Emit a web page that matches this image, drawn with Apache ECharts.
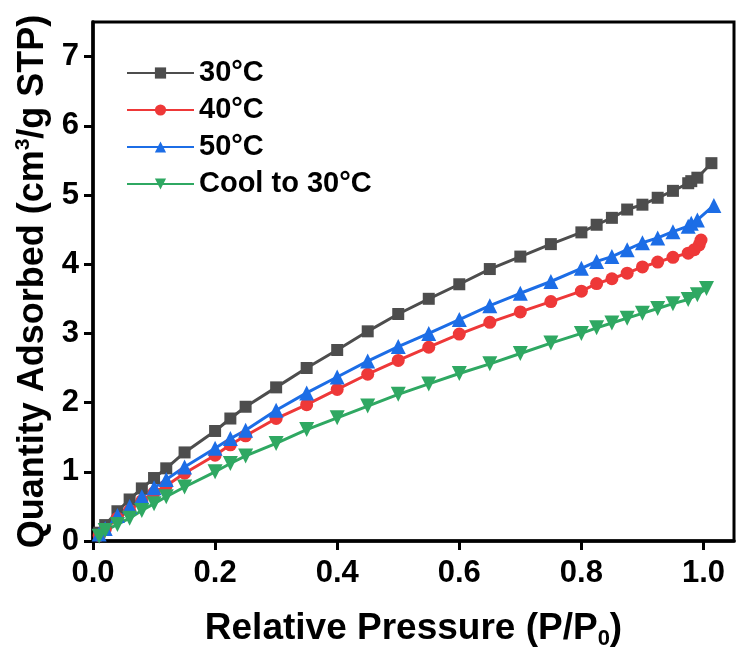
<!DOCTYPE html>
<html>
<head>
<meta charset="utf-8">
<script src="https://cdn.jsdelivr.net/npm/echarts@6/dist/echarts.min.js"></script>
<style>html,body{margin:0;padding:0;background:#fff}#chart{width:737px;height:652px}</style>
</head>
<body>
<div id="chart"></div>
<script>
const seriesNames = ['30°C', '40°C', '50°C', 'Cool to 30°C'];
const xTicks = [0, 0.2, 0.4, 0.6, 0.8, 1.0];
const yTicks = [0, 1, 2, 3, 4, 5, 6, 7];

const p30 = [0.01,0.02,0.04,0.06,0.08,0.10,0.12,0.15,0.20,0.225,0.25,0.30,0.35,0.40,0.45,0.50,0.55,0.60,0.65,0.70,0.75,0.80,0.825,0.85,0.875,0.90,0.925,0.95,0.975,0.98,0.99,1.013];
const q30 = [0.12,0.23,0.43,0.60,0.76,0.91,1.05,1.28,1.59,1.77,1.94,2.22,2.50,2.76,3.03,3.28,3.50,3.71,3.93,4.11,4.29,4.46,4.57,4.67,4.79,4.86,4.96,5.06,5.17,5.20,5.25,5.46];

const p40 = [0.01,0.02,0.04,0.06,0.08,0.10,0.12,0.15,0.20,0.225,0.25,0.30,0.35,0.40,0.45,0.50,0.55,0.60,0.65,0.70,0.75,0.80,0.825,0.85,0.875,0.90,0.925,0.95,0.975,0.985,0.993,0.996];
const q40 = [0.08,0.17,0.33,0.44,0.58,0.70,0.80,0.98,1.24,1.39,1.52,1.77,1.97,2.19,2.41,2.61,2.80,2.99,3.16,3.31,3.46,3.61,3.72,3.79,3.87,3.96,4.03,4.10,4.16,4.21,4.28,4.35];

const p50 = [0.01,0.02,0.04,0.06,0.08,0.10,0.12,0.15,0.20,0.225,0.25,0.30,0.35,0.40,0.45,0.50,0.55,0.60,0.65,0.70,0.75,0.80,0.825,0.85,0.875,0.90,0.925,0.95,0.975,0.98,0.99,1.017];
const q50 = [0.10,0.18,0.37,0.50,0.64,0.77,0.89,1.07,1.34,1.48,1.60,1.89,2.14,2.37,2.60,2.81,3.00,3.20,3.40,3.58,3.75,3.94,4.04,4.11,4.21,4.31,4.38,4.47,4.55,4.59,4.64,4.85];

const pCool = [0.01,0.02,0.04,0.06,0.08,0.10,0.12,0.15,0.20,0.225,0.25,0.30,0.35,0.40,0.45,0.50,0.55,0.60,0.65,0.70,0.75,0.80,0.825,0.85,0.875,0.90,0.925,0.95,0.975,0.99,1.005];
const qCool = [0.07,0.15,0.24,0.33,0.44,0.54,0.64,0.78,1.00,1.12,1.23,1.41,1.61,1.78,1.95,2.12,2.27,2.42,2.56,2.71,2.86,3.00,3.08,3.15,3.22,3.29,3.36,3.43,3.49,3.56,3.65];

const zip = (a, b) => a.map((v, i) => [v, b[i]]);
const FONT = '"Liberation Sans", Arial, sans-serif';

const chart = echarts.init(document.getElementById('chart'), null, {renderer: 'canvas'});

function mk(name, data, color, symbol, size, rotate) {
  return {
    name: name, type: 'line', data: data,
    symbol: symbol, symbolSize: size, symbolRotate: rotate || 0,
    lineStyle: {color: color, width: 3},
    itemStyle: {color: color},
    emphasis: {disabled: true},
    animation: false
  };
}

chart.setOption({
  animation: false,
  grid: {left: 93, right: 3, top: 22, bottom: 111, outerBoundsMode: 'none', containLabel: false,
    show: true, borderColor: '#000', borderWidth: 3, backgroundColor: 'transparent'},
  legend: {
    orient: 'vertical', left: 121, top: 53,
    itemWidth: 67, itemHeight: 14, itemGap: 7,
    textStyle: {fontFamily: FONT, fontWeight: 'bold', fontSize: 29, color: '#000', lineHeight: 30},
    data: seriesNames
  },
  xAxis: {
    type: 'value', min: 0, max: 1.05,
    name: 'Relative Pressure (P/P{sub|0})', nameLocation: 'middle', nameGap: 67,
    nameTextStyle: {fontFamily: FONT, fontWeight: 'bold', fontSize: 37, color: '#000',
      rich: {sub: {fontFamily: FONT, fontWeight: 'bold', fontSize: 22, color: '#000', verticalAlign: 'bottom', padding: [20, 0, 0, 0]}}},
    axisLine: {lineStyle: {color: '#000', width: 3.5}},
    axisTick: {show: true, length: 9, lineStyle: {color: '#000', width: 3}, customValues: xTicks},
    axisLabel: {fontFamily: FONT, fontWeight: 'bold', fontSize: 31, color: '#000', margin: 17, customValues: xTicks,
      formatter: v => v.toFixed(1)},
    splitLine: {show: false}
  },
  yAxis: {
    type: 'value', min: 0, max: 7.5,
    name: 'Quantity Adsorbed (cm{sup|3}/g STP)', nameLocation: 'middle', nameGap: 36, nameRotate: 90,
    nameTextStyle: {fontFamily: FONT, fontWeight: 'bold', fontSize: 36, color: '#000',
      rich: {sup: {fontFamily: FONT, fontWeight: 'bold', fontSize: 21, color: '#000', verticalAlign: 'top', padding: [0, 0, 19, 0]}}},
    axisLine: {lineStyle: {color: '#000', width: 3.5}},
    axisTick: {show: true, length: 9, lineStyle: {color: '#000', width: 3}, customValues: yTicks},
    axisLabel: {fontFamily: FONT, fontWeight: 'bold', fontSize: 31, color: '#000', margin: 14, customValues: yTicks},
    splitLine: {show: false}
  },
  series: [
    mk(seriesNames[0], zip(p30, q30), '#4d4d4d', 'rect', 12),
    mk(seriesNames[1], zip(p40, q40), '#ee3838', 'circle', 13),
    mk(seriesNames[2], zip(p50, q50), '#1c6de6', 'triangle', 15),
    mk(seriesNames[3], zip(pCool, qCool), '#2fa862', 'triangle', 15, 180)
  ]
});
</script>
</body>
</html>
